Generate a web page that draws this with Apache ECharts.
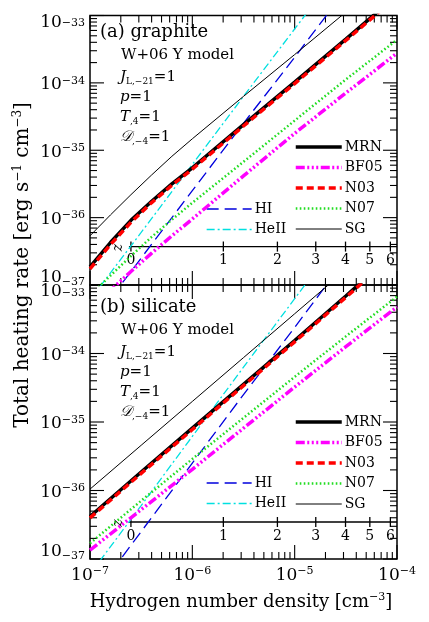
<!DOCTYPE html>
<html>
<head>
<meta charset="utf-8">
<script src="https://cdn.jsdelivr.net/npm/echarts@6/dist/echarts.min.js"></script>
<style>
html,body{margin:0;padding:0;background:#fff;}
#chart{width:429px;height:622px;}
</style>
</head>
<body>
<div id="chart"></div>
<script>
// ---------------- DATA (log10 values) ----------------
// x: log10 hydrogen number density [cm^-3]; y: log10 total heating rate [erg s^-1 cm^-3]
const logNa   = [-7, -6.8, -6.6, -6.4, -6.2, -6.0, -5.5, -5.0, -4.5, -4.0];
const mrnA    = [-36.73, -36.37, -36.04, -35.76, -35.50, -35.26, -34.62, -33.99, -33.35, -32.70];
const n03A    = [-36.76, -36.40, -36.07, -35.78, -35.52, -35.28, -34.64, -34.01, -33.37, -32.72];
const sgA     = [-36.27, -35.96, -35.66, -35.37, -35.09, -34.83, -34.20, -33.58, -32.95, -32.33];
const n07A    = [-37.16, -36.86, -36.57, -36.29, -36.03, -35.78, -35.17, -34.56, -33.95, -33.36];
const bf05A   = [-37.36, -37.08, -36.80, -36.53, -36.27, -36.02, -35.38, -34.75, -34.15, -33.56];

const logNb   = [-7, -6.5, -6.0, -5.5, -5.0, -4.5, -4.0];
const mrnB    = [-36.38, -35.73, -35.09, -34.45, -33.81, -33.16, -32.50];
const n03B    = [-36.40, -35.75, -35.11, -34.47, -33.83, -33.18, -32.52];
const sgB     = [-35.98, -35.34, -34.70, -34.06, -33.42, -32.78, -32.14];
const n07B    = [-36.77, -36.15, -35.54, -34.94, -34.34, -33.75, -33.17];
const bf05B   = [-36.87, -36.28, -35.69, -35.09, -34.49, -33.90, -33.32];

// gas (HI, HeII photoheating) – identical in both panels
const logNgas = [-7, -6.5, -6.0, -5.5, -5.0, -4.5];
const hiRate  = [-37.60, -36.60, -35.60, -34.60, -33.62, -32.62];
const heiiRate= [-37.22, -36.22, -35.21, -34.20, -33.20, -32.20];

// axes
const xDecades = [-7, -6, -5, -4];
const yDecades = [-37, -36, -35, -34, -33];
const minorMult = [2, 3, 4, 5, 6, 7, 8, 9];

// redshift axis: n_H(z) = n0 (1+z)^3
const zTicks = [0, 1, 2, 3, 4, 5, 6];
const logN0 = -6.60;
const zLevelA = -36.43;
const zLevelB = -36.46;

const legendRight = ['MRN', 'BF05', 'N03', 'N07', 'SG'];
const legendLeft = ['HI', 'HeII'];

// ---------------- STYLES ----------------
const FONT = 'DejaVu Serif';
const styles = {
  MRN:  {color: '#000000', width: 3.5, type: 'solid'},
  BF05: {color: '#ff00ff', width: 3.5, type: [9, 2.5, 2, 2.5, 2, 2.5, 2, 2.5]},
  N03:  {color: '#ff0000', width: 3.5, type: [7, 4]},
  N07:  {color: '#22dd22', width: 2.5, type: [1.6, 2.4]},
  SG:   {color: '#000000', width: 1, type: 'solid'},
  HI:   {color: '#0000dd', width: 1.3, type: [12, 6]},
  HeII: {color: '#00e0e0', width: 1.3, type: [8, 3, 2, 3]}
};

function pairs(xs, ys) { return xs.map((x, i) => [x, ys[i]]); }

const XMIN = -7, XMAX = -4, YMIN = -37, YMAX = -33;

// tick data: [value, kind(0=x,1=y), major]
function buildTicks() {
  const t = [];
  for (let d = XMIN; d < XMAX; d++) {
    minorMult.forEach(k => t.push([d + Math.log10(k), 0, 0]));
  }
  xDecades.forEach(d => t.push([d, 0, 1]));
  for (let d = YMIN; d < YMAX; d++) {
    minorMult.forEach(k => t.push([d + Math.log10(k), 1, 0]));
  }
  yDecades.forEach(d => t.push([d, 1, 1]));
  return t;
}
const tickData = buildTicks();

function tickRender(params, api) {
  const v = api.value(0), kind = api.value(1), major = api.value(2);
  const L = major ? 14 : 7;
  const st = {stroke: '#000', lineWidth: 1.1};
  if (kind === 0) {
    const a = api.coord([v, YMIN]), b = api.coord([v, YMAX]);
    return {type: 'group', children: [
      {type: 'line', shape: {x1: a[0], y1: a[1], x2: a[0], y2: a[1] - L}, style: st},
      {type: 'line', shape: {x1: b[0], y1: b[1], x2: b[0], y2: b[1] + L}, style: st}
    ]};
  } else {
    const a = api.coord([XMIN, v]), b = api.coord([XMAX, v]);
    return {type: 'group', children: [
      {type: 'line', shape: {x1: a[0], y1: a[1], x2: a[0] + L, y2: a[1]}, style: st},
      {type: 'line', shape: {x1: b[0], y1: b[1], x2: b[0] - L, y2: b[1]}, style: st}
    ]};
  }
}

function zRender(level) {
  return function (params, api) {
    const z = api.value(0);
    const n = logN0 + 3 * Math.log10(1 + z);
    const p = api.coord([n, level]);
    const st = {stroke: '#000', lineWidth: 1.3};
    const children = [
      {type: 'line', shape: {x1: p[0], y1: p[1] - 5, x2: p[0], y2: p[1] + 5}, style: st},
      {type: 'text', x: p[0], y: p[1] + 14,
       style: {text: String(z), font: '14px "' + FONT + '"', fill: '#000', align: 'center', verticalAlign: 'middle'}}
    ];
    if (z === 0) {
      const e = api.coord([XMAX, level]);
      children.push({type: 'line', shape: {x1: p[0] - 2, y1: p[1], x2: e[0], y2: e[1]}, style: st});
      children.push({type: 'text', x: p[0] - 13, y: p[1] + 1, rotation: Math.PI / 2,
        style: {text: 'z', font: 'italic 14px "' + FONT + '"', fill: '#000', align: 'center', verticalAlign: 'middle'}});
    }
    return {type: 'group', children: children};
  };
}

function lineSeries(name, xs, ys, gi) {
  const s = styles[name];
  return {
    type: 'line', name: name, xAxisIndex: gi, yAxisIndex: gi,
    data: pairs(xs, ys), symbol: 'none', showSymbol: false, clip: true,
    lineStyle: {color: s.color, width: s.width, type: s.type, cap: 'butt'},
    itemStyle: {color: s.color}, z: 5, silent: true
  };
}

const yRich = {
  b:  {fontSize: 17, fontFamily: FONT, color: '#000', lineHeight: 17, padding: [4, 0, 0, 0]},
  s:  {fontSize: 11, fontFamily: FONT, color: '#000', lineHeight: 11, verticalAlign: 'top', padding: [1, 0, 0, 0]},
  bT: {fontSize: 17, fontFamily: FONT, color: '#000', lineHeight: 17, padding: [14, 0, 0, 0]},
  sT: {fontSize: 11, fontFamily: FONT, color: '#000', lineHeight: 11, verticalAlign: 'top', padding: [11, 0, 0, 0]},
  bB: {fontSize: 17, fontFamily: FONT, color: '#000', lineHeight: 17, padding: [3, 0, 17, 0]},
  sB: {fontSize: 11, fontFamily: FONT, color: '#000', lineHeight: 11, verticalAlign: 'top', padding: [0, 0, 0, 0]}
};
function sup(v) { return (v < 0 ? '−' : '') + Math.abs(v); }
function yFmt(v) {
  const r = Math.round(v);
  if (r === YMAX) return '{bT|10}{sT|' + sup(r) + '}';
  if (r === YMIN) return '{bB|10}{sB|' + sup(r) + '}';
  return '{b|10}{s|' + sup(r) + '}';
}
function xFmt(v) { return '{b|10}{s|' + sup(Math.round(v)) + '}'; }

function xAxisCfg(gi, labels) {
  return {
    type: 'value', gridIndex: gi, min: XMIN, max: XMAX, interval: 1,
    axisLine: {show: false}, axisTick: {show: false}, splitLine: {show: false},
    axisLabel: labels ? {show: true, formatter: xFmt, margin: 6, rich: yRich, showMinLabel: true, showMaxLabel: true}
                      : {show: false}
  };
}
function yAxisCfg(gi) {
  return {
    type: 'value', gridIndex: gi, min: YMIN, max: YMAX, interval: 1,
    axisLine: {show: false}, axisTick: {show: false}, splitLine: {show: false},
    axisLabel: {show: true, formatter: yFmt, margin: 5, rich: yRich, showMinLabel: true, showMaxLabel: true}
  };
}

function legendData(names) {
  return names.map(n => ({
    name: n,
    itemStyle: {opacity: 0, borderWidth: 0},
    lineStyle: {width: styles[n].width, color: styles[n].color, type: styles[n].type, opacity: 1}
  }));
}
function legendCfg(names, left, top, w) {
  return {
    data: legendData(names), left: left, top: top, orient: 'vertical',
    itemWidth: w, itemHeight: 14, itemGap: 6.5, padding: 0, selectedMode: false,
    textStyle: {fontFamily: FONT, fontSize: 14, color: '#000', lineHeight: 14, padding: [0, 0, 0, -2]}
  };
}

const panels = [
  {gi: 0, data: {MRN: mrnA, N03: n03A, SG: sgA, N07: n07A, BF05: bf05A}, xs: logNa, zl: zLevelA},
  {gi: 1, data: {MRN: mrnB, N03: n03B, SG: sgB, N07: n07B, BF05: bf05B}, xs: logNb, zl: zLevelB}
];

const series = [];
panels.forEach(p => {
  series.push({type: 'custom', xAxisIndex: p.gi, yAxisIndex: p.gi, data: tickData, renderItem: tickRender, silent: true, z: 2});
  series.push({type: 'custom', xAxisIndex: p.gi, yAxisIndex: p.gi, data: zTicks.map(z => [z]), renderItem: zRender(p.zl), silent: true, z: 2});
  series.push(lineSeries('HI', logNgas, hiRate, p.gi));
  series.push(lineSeries('HeII', logNgas, heiiRate, p.gi));
  series.push(lineSeries('SG', p.xs, p.data.SG, p.gi));
  series.push(lineSeries('N07', p.xs, p.data.N07, p.gi));
  series.push(lineSeries('BF05', p.xs, p.data.BF05, p.gi));
  series.push(lineSeries('MRN', p.xs, p.data.MRN, p.gi));
  series.push(lineSeries('N03', p.xs, p.data.N03, p.gi));
});

function label(x, y, text, rich, size) {
  return {type: 'text', x: x, y: y, z: 10,
    style: {text: text, rich: rich, font: size + 'px "' + FONT + '"', fill: '#000', align: 'left', verticalAlign: 'middle'}};
}
const annRich = {
  i:   {fontSize: 15, fontFamily: FONT, fontStyle: 'italic', color: '#000', lineHeight: 18},
  n:   {fontSize: 15, fontFamily: FONT, color: '#000', lineHeight: 18},
  sub: {fontSize: 9, fontFamily: FONT, color: '#000', lineHeight: 9, verticalAlign: 'bottom'}
};
function annotations(dy, tag, mat) {
  return [
    label(100, 32 + dy, '(' + tag + ') ' + mat, null, 18),
    label(121, 55 + dy, 'W+06 Y model', null, 15),
    label(120, 77 + dy, '{i|J}{sub|L,−21}{n|=1}', annRich, 15),
    label(120, 97 + dy, '{i|p}{n|=1}', annRich, 15),
    label(120, 117 + dy, '{i|T}{sub|,4}{n|=1}', annRich, 15),
    label(120, 137 + dy, '{i|𝒟}{sub|,−4}{n|=1}', annRich, 15)
  ];
}
const nameRich = {
  b: {fontSize: 18, fontFamily: FONT, color: '#000', lineHeight: 18, padding: [4, 0, 0, 0]},
  s: {fontSize: 11, fontFamily: FONT, color: '#000', lineHeight: 11, verticalAlign: 'top', padding: [1, 0, 0, 0]}
};
const yNameRich = {
  b: {fontSize: 20, fontFamily: FONT, color: '#000', lineHeight: 20, padding: [4, 0, 0, 0]},
  s: {fontSize: 12, fontFamily: FONT, color: '#000', lineHeight: 12, verticalAlign: 'top', padding: [1, 0, 0, 0]}
};

const option = {
  backgroundColor: '#fff',
  animation: false,
  grid: [
    {left: 90, top: 10, width: 307, height: 275, show: true, borderColor: '#000', borderWidth: 1.5, backgroundColor: 'transparent'},
    {left: 90, top: 285, width: 307, height: 274, show: true, borderColor: '#000', borderWidth: 1.5, backgroundColor: 'transparent'}
  ],
  xAxis: [xAxisCfg(0, false), xAxisCfg(1, true)],
  yAxis: [yAxisCfg(0), yAxisCfg(1)],
  legend: [
    legendCfg(legendRight, 294, 140, 46),
    legendCfg(legendLeft, 206, 202, 45),
    legendCfg(legendRight, 294, 415, 46),
    legendCfg(legendLeft, 206, 476, 45)
  ],
  graphic: [].concat(
    annotations(0, 'a', 'graphite'),
    annotations(275, 'b', 'silicate'),
    [
      {type: 'text', x: 241, y: 600, z: 10,
       style: {text: '{b|Hydrogen number density [cm}{s|−3}{b|]}', rich: nameRich, align: 'center', verticalAlign: 'middle', fill: '#000'}},
      {type: 'text', x: 21, y: 265, rotation: Math.PI / 2, z: 10,
       style: {text: '{b|Total heating rate [erg s}{s|−1}{b| cm}{s|−3}{b|]}', rich: yNameRich, align: 'center', verticalAlign: 'middle', fill: '#000'}}
    ]
  ),
  series: series
};

const chart = echarts.init(document.getElementById('chart'), null, {renderer: 'canvas'});
chart.setOption(option);
</script>
</body>
</html>
